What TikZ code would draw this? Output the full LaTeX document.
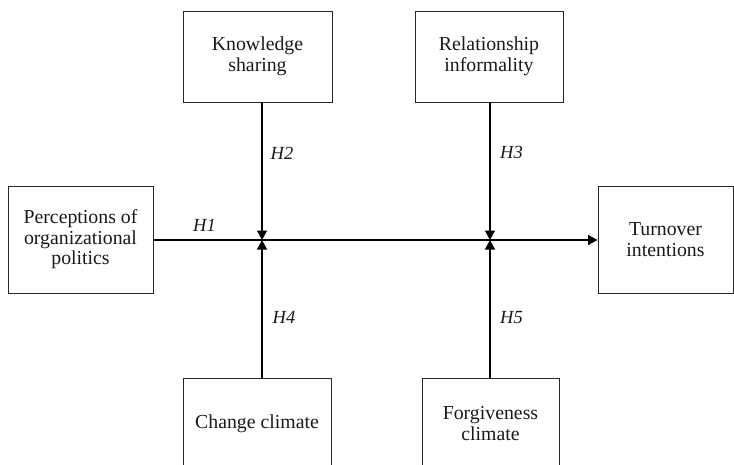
\documentclass[tikz,border=0pt]{standalone}
\usepackage{fontspec}
\setmainfont{Liberation Serif}
\usetikzlibrary{arrows.meta}
\begin{document}
\begin{tikzpicture}[x=1pt,y=-1pt,
  box/.style={draw=black!85,line width=0.9pt,align=center,inner sep=0pt,
    font=\fontsize{19.8}{20.5}\selectfont,text=black!90},
  hyp/.style={font=\fontsize{18.5}{18.5}\selectfont\itshape,text=black!90,inner sep=0pt},
  conn/.style={draw=black,line width=1.3pt},
  tip/.style={-{Triangle[length=9.5pt,width=10pt]}}]
\useasboundingbox (0,0) rectangle (734,464);
\node[box,minimum width=145pt,minimum height=107pt] (POP) at (80.5,239.5) {Perceptions of\\organizational\\politics};
\node[box,minimum width=135pt,minimum height=107pt] (TI) at (665.5,239.5) {Turnover\\intentions};
\node[box,minimum width=149pt,minimum height=91pt] (KS) at (257.5,56.5) {Knowledge\\sharing};
\node[box,minimum width=148pt,minimum height=91pt] (RI) at (489,56.5) {Relationship\\informality};
\node[box,minimum width=148pt,minimum height=91pt] (CC) at (257,423.5) {Change climate};
\node[box,minimum width=137pt,minimum height=91pt] (FC) at (490.5,423.5) {Forgiveness\\climate};
\coordinate (J1) at (262,240);
\coordinate (J2) at (490,240);
\draw[conn,tip] (POP.east |- J1) -- (TI.west |- J1);
\draw[conn,tip] (KS.south -| J1) -- (J1);
\draw[conn,tip] (CC.north -| J1) -- (J1);
\draw[conn,tip] (RI.south -| J2) -- (J2);
\draw[conn,tip] (FC.north -| J2) -- (J2);
\node[hyp] (H1) at (204.5,225.5) {H1};
\node[hyp] (H2) at (282,153) {H2};
\node[hyp] (H3) at (511.5,152.5) {H3};
\node[hyp] (H4) at (284,317.5) {H4};
\node[hyp] (H5) at (511.5,318) {H5};
\end{tikzpicture}
\end{document}
